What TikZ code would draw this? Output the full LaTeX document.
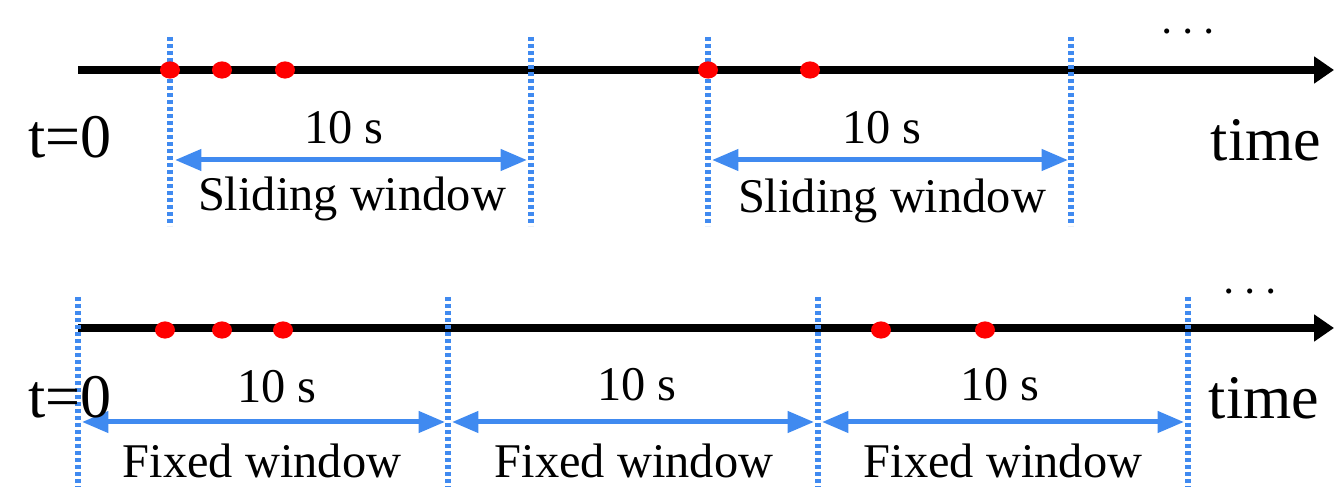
\documentclass[tikz,border=0pt]{standalone}
\usepackage{fontspec}
\setmainfont{Liberation Serif}
\usetikzlibrary{arrows.meta}
\definecolor{winblue}{RGB}{64,138,240}
\tikzset{
  axisline/.style={line width=2pt,draw=black,-{Triangle[length=5pt,width=6.5pt]}},
  bound/.style={draw=winblue,line width=1.45pt,dash pattern=on 1.05pt off 0.7pt},
  span/.style={draw=winblue,line width=1.25pt,{Triangle[length=6.6pt,width=5.2pt]}-{Triangle[length=6.6pt,width=5.2pt]}},
  event/.style={ellipse,fill=red,inner sep=0pt,minimum width=5pt,minimum height=4.3pt},
  lbl/.style={inner sep=0pt,font=\fontsize{12.1}{14}\selectfont},
  biglbl/.style={inner sep=0pt,font=\fontsize{15.5}{18}\selectfont},
}
\usetikzlibrary{shapes.geometric}
\begin{document}
\begin{tikzpicture}[x=0.25pt,y=-0.25pt]
\useasboundingbox (0,0) rectangle (1334,500);

% ---------- sliding windows ----------
\coordinate (a0) at (78,70);
\coordinate (a1) at (1334,70);
\foreach \n/\x in {s1/170,s2/531,s3/708,s4/1071}{
  \coordinate (\n t) at (\x,37);
  \coordinate (\n b) at (\x,226);
}
\draw[axisline] (a0) -- (a1);
\foreach \n in {s1,s2,s3,s4}{ \draw[bound] (\n t) -- (\n b); }
\foreach \n/\x in {e1/170,e2/222,e3/285,e4/708,e5/810}{
  \node[event] (\n) at (\x,70) {};
}
\coordinate (w1l) at (175,160); \coordinate (w1r) at (527,160);
\coordinate (w2l) at (712,160); \coordinate (w2r) at (1068,160);
\draw[span] (w1l) -- (w1r);
\draw[span] (w2l) -- (w2r);
\node[lbl] (d1) at (344,128) {10 s};
\node[lbl] (d2) at (882,128) {10 s};
\node[lbl] (n1) at (352,199) {Sliding window};
\node[lbl] (n2) at (892,201) {Sliding window};
\node[biglbl] (t0a) at (70,137) {t=0};
\node[biglbl] (tma) at (1266,140) {time};
\node[lbl] (dota) at (1188,33) {$\cdots$};

% ---------- fixed windows ----------
\coordinate (b0) at (78,328);
\coordinate (b1) at (1334,328);
\foreach \n/\x in {f1/78,f2/448,f3/818,f4/1188}{
  \coordinate (\n t) at (\x,297);
  \coordinate (\n b) at (\x,487);
}
\draw[axisline] (b0) -- (b1);
\foreach \n in {f1,f2,f3,f4}{ \draw[bound] (\n t) -- (\n b); }
\foreach \n/\x in {g1/165,g2/222,g3/283,g4/881,g5/985}{
  \node[event] (\n) at (\x,330) {};
}
\coordinate (v1l) at (82,422);  \coordinate (v1r) at (445,422);
\coordinate (v2l) at (452,422); \coordinate (v2r) at (814,422);
\coordinate (v3l) at (822,422); \coordinate (v3r) at (1184,422);
\draw[span] (v1l) -- (v1r);
\draw[span] (v2l) -- (v2r);
\draw[span] (v3l) -- (v3r);
\node[lbl] (k1) at (277,387) {10 s};
\node[lbl] (k2) at (637,385) {10 s};
\node[lbl] (k3) at (1000,385) {10 s};
\node[lbl] (m1) at (262,461) {Fixed window};
\node[lbl] (m2) at (634,461) {Fixed window};
\node[lbl] (m3) at (1003,461) {Fixed window};
\node[biglbl] (t0b) at (70,397) {t=0};
\node[biglbl] (tmb) at (1264,398) {time};
\node[lbl] (dotb) at (1250,293) {$\cdots$};
\end{tikzpicture}
\end{document}
